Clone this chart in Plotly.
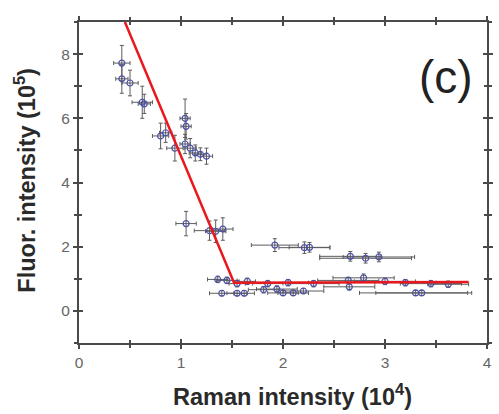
import plotly.graph_objects as go

# Measured points: Raman intensity (1e4) vs fluorescence intensity (1e5)
raman = [0.42, 0.42, 0.50, 0.62, 0.64, 0.80, 0.85, 0.94, 1.04, 1.05, 1.04, 1.09, 1.14, 1.19, 1.25,
         1.05, 1.28, 1.34, 1.41,
         1.36, 1.45, 1.55, 1.65, 1.85, 2.05, 2.30, 2.64, 2.79, 3.00, 3.20, 3.45, 3.62,
         1.40, 1.55, 1.62, 1.81, 1.94, 2.00, 2.10, 2.20, 2.65, 3.30, 3.36,
         1.92, 2.21, 2.26, 2.66, 2.81, 2.94]
fluor = [7.72, 7.23, 7.10, 6.50, 6.45, 5.45, 5.55, 5.07, 6.00, 5.75, 5.20, 5.07, 4.92, 4.88, 4.82,
         2.72, 2.50, 2.48, 2.55,
         0.98, 0.95, 0.85, 0.92, 0.85, 0.88, 0.85, 0.95, 1.03, 0.92, 0.88, 0.85, 0.83,
         0.55, 0.55, 0.55, 0.66, 0.68, 0.56, 0.56, 0.62, 0.75, 0.56, 0.56,
         2.05, 1.97, 1.98, 1.70, 1.64, 1.68]
raman_err = [0.08, 0.06, 0.08, 0.10, 0.06, 0.08, 0.06, 0.08, 0.05, 0.05, 0.05, 0.06, 0.06, 0.06, 0.06,
             0.10, 0.15, 0.10, 0.10,
             0.10, 0.10, 0.08, 0.08, 0.15, 0.20, 0.25, 0.30, 0.30, 0.30, 0.30, 0.30, 0.20,
             0.12, 0.10, 0.10, 0.15, 0.20, 0.15, 0.15, 0.20, 0.25, 0.55, 0.45,
             0.23, 0.25, 0.20, 0.30, 0.45, 0.35]
fluor_err = [0.55, 0.45, 0.40, 0.50, 0.30, 0.40, 0.30, 0.40, 0.60, 0.40, 0.30, 0.30, 0.25, 0.20, 0.25,
             0.38, 0.30, 0.35, 0.35,
             0.10, 0.10, 0.10, 0.10, 0.10, 0.10, 0.10, 0.10, 0.12, 0.10, 0.10, 0.10, 0.10,
             0.08, 0.08, 0.08, 0.10, 0.10, 0.08, 0.08, 0.08, 0.10, 0.08, 0.08,
             0.20, 0.18, 0.15, 0.15, 0.15, 0.15]

# Two-segment fit: steep decline, then plateau
fit_x = [0.45, 1.52, 3.82]
fit_y = [9.0, 0.88, 0.90]

x_ticks = [0, 1, 2, 3, 4]
y_ticks = [0, 2, 4, 6, 8]

axis_col = "#4a4a4a"
label_col = "#666666"
title_col = "#2a2a2a"
font_family = "Liberation Sans, Arial, sans-serif"

fig = go.Figure()

fig.add_trace(go.Scatter(
    x=raman, y=fluor, mode="markers",
    marker=dict(symbol="circle-open", size=6, color="#4b4fa6", line=dict(width=1.2)),
    error_x=dict(type="data", array=raman_err, color="#5c5c5c", thickness=1, width=2),
    error_y=dict(type="data", array=fluor_err, color="#5c5c5c", thickness=1, width=2),
    showlegend=False,
))

fig.add_trace(go.Scatter(
    x=fit_x, y=fit_y, mode="lines",
    line=dict(color="#e8181e", width=2.5),
    showlegend=False,
))

# Invisible trace so the inner-tick overlay axes are drawn
fig.add_trace(go.Scatter(x=[None], y=[None], xaxis="x2", yaxis="y2", showlegend=False))

common = dict(showgrid=False, zeroline=False, showline=True, linecolor=axis_col, linewidth=2,
              ticks="outside", ticklen=4, tickwidth=1.5, tickcolor=axis_col, mirror="ticks")

fig.update_layout(
    width=499, height=414,
    margin=dict(l=79, r=6, t=22, b=71),
    paper_bgcolor="white", plot_bgcolor="white",
    font=dict(family=font_family, color=label_col),
    xaxis=dict(range=[0, 4], tickvals=x_ticks, ticktext=[str(v) for v in x_ticks],
               tickfont=dict(size=15.5, color=label_col),
               minor=dict(dtick=0.5, ticks="outside", ticklen=3, tickcolor=axis_col, tickwidth=1.5),
               **common),
    yaxis=dict(range=[-1, 9], tickvals=y_ticks, ticktext=[str(v) for v in y_ticks],
               tickfont=dict(size=15.5, color=label_col),
               minor=dict(dtick=1, ticks="outside", ticklen=3, tickcolor=axis_col, tickwidth=1.5),
               **common),
    xaxis2=dict(overlaying="x", matches="x", range=[0, 4], tickvals=x_ticks, showticklabels=False,
                showgrid=False, zeroline=False, showline=False, ticks="inside", ticklen=4,
                tickwidth=1.5, tickcolor=axis_col, mirror="ticks",
                minor=dict(dtick=0.5, ticks="inside", ticklen=3, tickcolor=axis_col, tickwidth=1.5)),
    yaxis2=dict(overlaying="y", matches="y", range=[-1, 9], tickvals=y_ticks, showticklabels=False,
                showgrid=False, zeroline=False, showline=False, ticks="inside", ticklen=4,
                tickwidth=1.5, tickcolor=axis_col, mirror="ticks",
                minor=dict(dtick=1, ticks="inside", ticklen=3, tickcolor=axis_col, tickwidth=1.5)),
    annotations=[
        dict(x=3.6, y=7.3, xref="x", yref="y", text="(c)", showarrow=False,
             font=dict(size=46, color="#222222", family=font_family)),
        dict(x=0.524, y=-0.162, xref="paper", yref="paper", text="<b>Raman intensity (10<sup>4</sup>)</b>",
             showarrow=False, xanchor="center", yanchor="middle",
             font=dict(size=23.5, color=title_col, family=font_family)),
        dict(x=-0.133, y=0.508, xref="paper", yref="paper", text="<b>Fluor. intensity (10<sup>5</sup>)</b>",
             showarrow=False, xanchor="center", yanchor="middle", textangle=-90,
             font=dict(size=23.5, color=title_col, family=font_family)),
    ],
)

fig.write_html("out.html")
